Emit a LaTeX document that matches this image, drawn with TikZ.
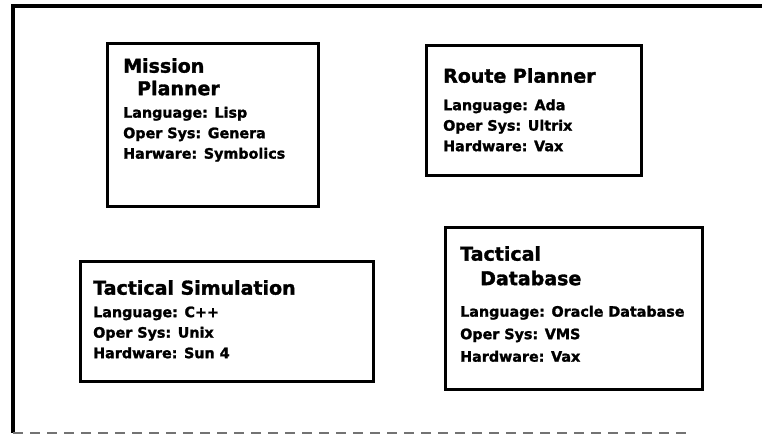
\documentclass[tikz,border=0pt]{standalone}
\usepackage{fontspec}
\setmainfont{DejaVu Sans}[BoldFeatures={FakeBold=1.6}]
\usetikzlibrary{positioning}

\newcommand{\systitle}[1]{{\fontsize{19}{23}\selectfont #1}}

\begin{document}
\begin{tikzpicture}[
    x=1pt, y=-1pt,
    sysbox/.style={rectangle, draw=black, line width=3pt, anchor=north west,
                   inner sep=0pt},
    systext/.style={anchor=north west, align=left, inner sep=0pt,
                    font=\bfseries\fontsize{14.3}{20.5}\selectfont},
    frameline/.style={line width=3.2pt}
  ]
    \useasboundingbox (0,0) rectangle (762,440);
    % outer frame, open on the right
    \coordinate (ftr) at (762,6);
    \coordinate (ftl) at (13,6);
    \coordinate (fbl) at (13,433);
    \coordinate (fbr) at (690,433);
    \draw[frameline] (ftr) -- (ftl) -- (fbl);
    \draw[line width=1.8pt, black!55, dash pattern=on 10pt off 7pt] (fbl) -- (fbr);

    \node[sysbox, minimum width=211pt, minimum height=163pt] (mission) at (106,42) {};
    \node[systext, below right=16pt and 17pt of mission.north west, anchor=north west] (missiontxt) {
      \systitle{Mission}\\[2pt]
      \systitle{\hspace*{14pt}Planner}\\[2pt]
      Language: Lisp\\
      Oper Sys: Genera\\
      Harware: Symbolics
    };

    \node[sysbox, minimum width=215pt, minimum height=130pt] (route) at (425,44) {};
    \node[systext, below right=24pt and 18pt of route.north west, anchor=north west] (routetxt) {
      \systitle{Route Planner}\\[7pt]
      Language: Ada\\
      Oper Sys: Ultrix\\
      Hardware: Vax
    };

    \node[sysbox, minimum width=293pt, minimum height=120pt] (tacsim) at (79,260) {};
    \node[systext, below right=20pt and 14pt of tacsim.north west, anchor=north west] (tacsimtxt) {
      \systitle{Tactical Simulation}\\[2pt]
      Language: C++\\
      Oper Sys: Unix\\
      Hardware: Sun 4
    };

    \node[sysbox, minimum width=257pt, minimum height=162pt] (tacdb) at (444,226) {};
    \node[systext, below right=20pt and 16pt of tacdb.north west, anchor=north west] (tacdbtxt) {
      \systitle{Tactical}\\[4pt]
      \systitle{\hspace*{20pt}Database}\\[11pt]
      Language: Oracle Database\\[2pt]
      Oper Sys: VMS\\[2pt]
      Hardware: Vax
    };
  \end{tikzpicture}
\end{document}
